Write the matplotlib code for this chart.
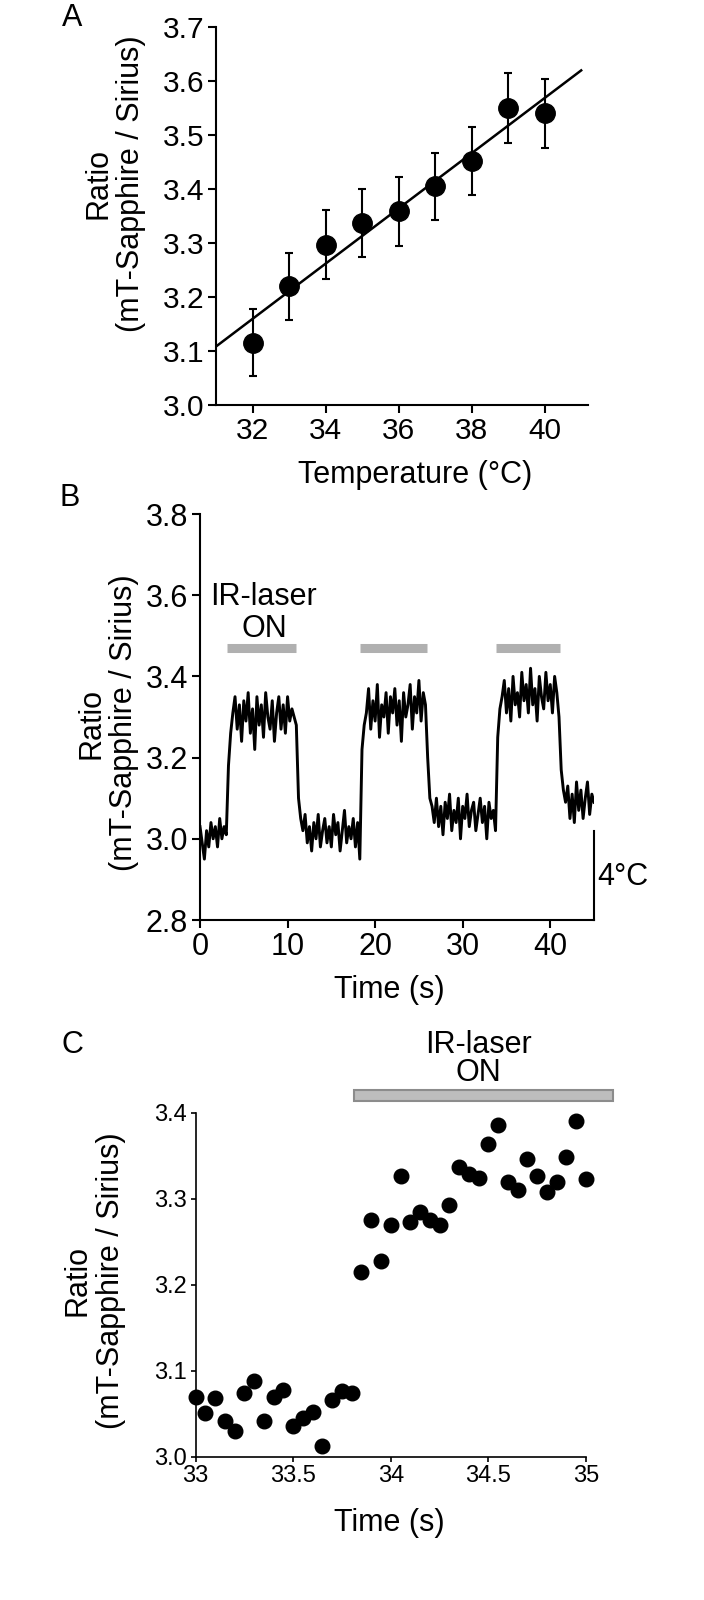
import numpy as np
import matplotlib
matplotlib.use('Agg')
import matplotlib.pyplot as plt
from matplotlib.patches import Rectangle

plt.rcParams['font.family'] = ['Liberation Sans', 'DejaVu Sans']

# Panel A: calibration, ratio vs temperature
temp = [32, 33, 34, 35, 36, 37, 38, 39, 40]
ratio_a = [3.115, 3.220, 3.297, 3.337, 3.359, 3.405, 3.452, 3.550, 3.540]
err_a = [0.062, 0.062, 0.064, 0.063, 0.064, 0.062, 0.063, 0.064, 0.064]

# Panel B: ratio trace, sampled every 0.25 s
dt_b = 0.25
ratio_b = [
    3.03, 2.99, 2.95, 3.02, 2.98, 3.04, 3.00, 3.03, 2.98, 3.05, 3.00, 3.03, 3.01,
    3.18, 3.26, 3.31,
    3.35, 3.27, 3.33, 3.24, 3.34, 3.29, 3.36, 3.26, 3.32, 3.22, 3.35, 3.28, 3.33, 3.25,
    3.36, 3.30, 3.27, 3.34, 3.24, 3.31, 3.35, 3.27, 3.33, 3.26, 3.35, 3.29, 3.32, 3.30,
    3.28, 3.10, 3.05, 3.02,
    3.06, 2.99, 3.03, 2.97, 3.04, 3.00, 3.06, 2.98, 3.02, 3.05, 2.99, 3.03, 2.98,
    3.06, 3.01, 3.04, 2.97, 3.02, 3.07, 2.99, 3.03, 3.00, 3.05, 2.98, 3.04,
    2.95, 3.22, 3.28, 3.31,
    3.37, 3.27, 3.34, 3.29, 3.38, 3.25, 3.33, 3.30, 3.36, 3.26, 3.35, 3.31, 3.37, 3.28,
    3.34, 3.24, 3.36, 3.30, 3.33, 3.38, 3.27, 3.35, 3.31, 3.39, 3.29, 3.36, 3.33,
    3.20, 3.10, 3.08, 3.04,
    3.10, 3.03, 3.08, 3.01, 3.09, 3.05, 3.11, 3.02, 3.07, 3.04, 3.10, 3.00, 3.08, 3.05,
    3.11, 3.03, 3.07, 3.09, 3.02, 3.06, 3.10, 3.04, 3.08, 3.00, 3.09, 3.05, 3.07,
    3.02, 3.25, 3.32, 3.35,
    3.39, 3.31, 3.37, 3.29, 3.40, 3.33, 3.36, 3.30, 3.41, 3.34, 3.38, 3.31, 3.42,
    3.33, 3.37, 3.29, 3.40, 3.35, 3.32, 3.41, 3.34, 3.38, 3.31, 3.40, 3.36,
    3.30, 3.17, 3.12, 3.09,
    3.13, 3.05, 3.11, 3.04, 3.14, 3.07, 3.12, 3.05, 3.10, 3.14, 3.06, 3.11, 3.09,
]
laser_on_b = [3.1, 18.3, 33.8]
laser_off_b = [11.0, 25.9, 41.1]

# Panel C: zoom on one laser onset, sampled every 0.05 s from 33 s
t0_c = 33.0
dt_c = 0.05
ratio_c = [
    3.070, 3.051, 3.068, 3.041, 3.030, 3.074, 3.088, 3.042, 3.070, 3.078,
    3.036, 3.045, 3.052, 3.013, 3.066, 3.076, 3.074,
    3.215, 3.275, 3.228, 3.269, 3.326, 3.273, 3.285, 3.275, 3.270, 3.293,
    3.337, 3.329, 3.324, 3.364, 3.386, 3.320, 3.310, 3.346, 3.326, 3.308,
    3.319, 3.348, 3.390, 3.323,
]
laser_on_c = 33.81
laser_off_c = 35.14

ylabel = 'Ratio\n(mT-Sapphire / Sirius)'
FS = 22

fig = plt.figure(figsize=(7.04, 16), dpi=100)


def style(ax, lw, ticklen, size):
    for s in ['top', 'right']:
        ax.spines[s].set_visible(False)
    for s in ['left', 'bottom']:
        ax.spines[s].set_linewidth(lw)
    ax.tick_params(direction='out', length=ticklen, width=lw, labelsize=size, pad=2.5)


def ylab(ax, x, y):
    ax.text(x, y, ylabel, transform=ax.transAxes, rotation=90,
            ha='center', va='center', fontsize=FS, linespacing=1.12)


# ---- A ----
axA = fig.add_axes([0.3068, 0.7469, 0.5291, 0.23625])
style(axA, 1.5, 6, 21.5)
fit = np.polyfit(temp, ratio_a, 1)
xfit = np.array([31, 41])
axA.plot(xfit, np.polyval(fit, xfit), color='k', lw=1.8)
axA.errorbar(temp, ratio_a, yerr=err_a, fmt='o', color='k', ms=14,
             capsize=3, elinewidth=1.5, capthick=1.5, clip_on=False)
axA.set_xlim(31, 41.2)
axA.set_ylim(3.0, 3.7)
axA.set_xticks([32, 34, 36, 38, 40])
axA.set_yticks(np.arange(3.0, 3.71, 0.1))
axA.set_yticklabels([f'{v:.1f}' for v in np.arange(3.0, 3.71, 0.1)])
ylab(axA, -0.271, 0.585)
axA.text(0.5337, -0.185, 'Temperature (°C)', transform=axA.transAxes,
         ha='center', va='center', fontsize=FS)

# ---- B ----
axB = fig.add_axes([0.2841, 0.425, 0.5597, 0.25375])
style(axB, 1.5, 6, FS)
time_b = np.arange(len(ratio_b)) * dt_b
axB.plot(time_b, ratio_b, color='k', lw=2.1)
axB.hlines([3.469] * 3, laser_on_b, laser_off_b, color='#b0b0b0', lw=6.5)
axB.set_xlim(0, 45)
axB.set_ylim(2.8, 3.8)
axB.set_xticks([0, 10, 20, 30, 40])
axB.set_yticks([2.8, 3.0, 3.2, 3.4, 3.6, 3.8])
axB.set_yticklabels(['2.8', '3.0', '3.2', '3.4', '3.6', '3.8'])
axB.text(7.3, 3.595, 'IR-laser', ha='center', va='center', fontsize=FS)
axB.text(7.3, 3.516, 'ON', ha='center', va='center', fontsize=FS)
# 4 degree scale bar
axB.plot([45, 45], [2.8, 3.02], color='k', lw=1.5, clip_on=False)
axB.text(45.4, 2.906, '4°C', ha='left', va='center', fontsize=FS)
ylab(axB, -0.2348, 0.485)
axB.text(0.4815, -0.172, 'Time (s)', transform=axB.transAxes,
         ha='center', va='center', fontsize=FS)

# ---- C ----
axC = fig.add_axes([0.2777, 0.08956, 0.5547, 0.215])
style(axC, 1.2, 3.7, 17)
time_c = t0_c + np.arange(len(ratio_c)) * dt_c
axC.plot(time_c, ratio_c, 'o', color='k', ms=10.5, clip_on=False)
axC.add_patch(Rectangle((laser_on_c, 3.4138), laser_off_c - laser_on_c, 0.0124,
                        facecolor='#bdbdbd', edgecolor='#8c8c8c', lw=1.5,
                        clip_on=False))
axC.set_xlim(33, 35)
axC.set_ylim(3.0, 3.4)
axC.set_xticks([33, 33.5, 34, 34.5, 35])
axC.set_xticklabels(['33', '33.5', '34', '34.5', '35'])
axC.set_yticks([3.0, 3.1, 3.2, 3.3, 3.4])
axC.set_yticklabels(['3.0', '3.1', '3.2', '3.3', '3.4'])
axC.text(34.45, 3.4787, 'IR-laser', ha='center', va='center', fontsize=FS)
axC.text(34.45, 3.446, 'ON', ha='center', va='center', fontsize=FS)
ylab(axC, -0.259, 0.511)
axC.text(0.4973, -0.193, 'Time (s)', transform=axC.transAxes,
         ha='center', va='center', fontsize=FS)

# panel letters
fig.text(0.1023, 0.98875, 'A', ha='center', va='center', fontsize=FS)
fig.text(0.0991, 0.689, 'B', ha='center', va='center', fontsize=FS)
fig.text(0.1023, 0.347, 'C', ha='center', va='center', fontsize=FS)

fig.savefig('out.png', dpi=100)
